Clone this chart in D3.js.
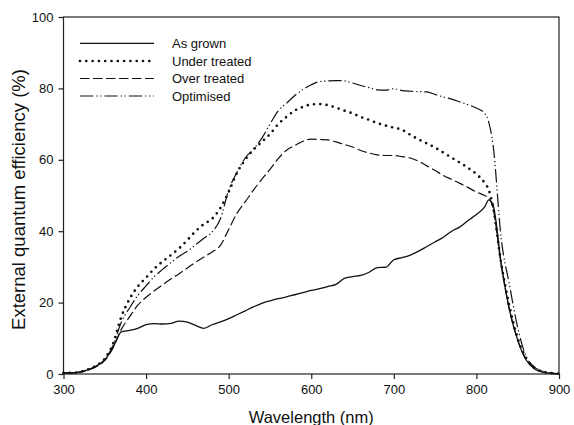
<!DOCTYPE html>
<html>
<head>
<meta charset="utf-8">
<script src="https://cdn.jsdelivr.net/npm/d3@7"></script>
<style>
  body { margin: 0; background: #fff; }
  svg { font-family: Arial, "Liberation Sans", sans-serif; }
</style>
</head>
<body>
<div id="chart"></div>
<script>
// wavelength grid (nm)
const wavelengths = [300, 310, 320, 330, 340, 350, 360, 370, 380, 390,
  400, 410, 420, 430, 440, 450, 460, 470, 480, 490,
  500, 510, 520, 530, 540, 550, 560, 570, 580, 590,
  600, 610, 620, 630, 640, 650, 660, 670, 680, 690,
  700, 710, 720, 730, 740, 750, 760, 770, 780, 790,
  800, 810, 815, 820, 830, 840, 850, 860, 870, 880, 890, 900]

const asGrown = [0.3, 0.3, 0.6, 1.2, 2.2, 4.0, 7.5, 11.8, 12.2, 12.8,
  13.8, 14.1, 14.0, 14.2, 14.8, 14.5, 13.6, 12.8, 13.8, 14.6,
  15.5, 16.6, 17.7, 18.8, 19.8, 20.5, 21.1, 21.6, 22.2, 22.8,
  23.4, 23.9, 24.5, 25.1, 26.8, 27.3, 27.6, 28.5, 29.8, 29.9,
  32.0, 32.6, 33.3, 34.4, 35.7, 37.0, 38.3, 40.0, 41.2, 43.0,
  44.7, 46.8, 48.8, 47.5, 31.0, 18.0, 9.5, 4.0, 1.5, 0.5, 0.2, 0.1]

const underTreated = [0.3, 0.3, 0.6, 1.3, 2.4, 4.3, 8.5, 16.0, 21.0, 24.5,
  27.0, 29.5, 31.5, 33.3, 35.2, 37.5, 40.0, 42.0, 43.5, 46.5,
  51.0, 56.3, 60.0, 62.8, 65.0, 67.2, 70.0, 72.0, 73.8, 74.8,
  75.5, 75.6, 75.3, 74.6, 73.8, 73.0, 72.0, 71.2, 70.3, 69.6,
  69.0, 68.4, 67.0, 65.7, 64.6, 63.4, 62.0, 60.6, 59.2, 57.7,
  56.0, 53.5, 51.5, 47.0, 31.0, 19.0, 10.0, 4.5, 1.8, 0.7, 0.3, 0.1]

const overTreated = [0.3, 0.3, 0.5, 1.1, 2.1, 3.8, 7.3, 12.5, 16.0, 19.3,
  21.5, 23.3, 25.0, 26.6, 28.1, 29.7, 31.3, 32.8, 34.2, 36.0,
  40.5, 45.0, 48.2, 51.5, 54.5, 57.3, 60.3, 62.7, 64.0, 65.2,
  65.8, 65.7, 65.6, 65.0, 64.3, 63.6, 62.6, 61.9, 61.4, 61.2,
  61.2, 60.9, 60.5, 59.6, 58.3, 57.0, 55.6, 54.5, 53.4, 52.2,
  51.0, 50.0, 49.3, 46.5, 30.5, 18.0, 9.5, 4.2, 1.6, 0.6, 0.2, 0.1]

const optimised = [0.3, 0.3, 0.5, 1.2, 2.3, 4.1, 8.0, 14.5, 18.5, 22.0,
  24.7, 27.3, 29.3, 31.2, 33.0, 34.4, 36.2, 38.0, 39.8, 43.5,
  51.5, 56.5, 60.5, 63.0, 66.0, 70.0, 73.7, 75.8, 78.0, 79.7,
  81.0, 81.9, 82.1, 82.2, 82.1, 81.5, 80.8, 80.2, 79.6, 79.5,
  79.9, 79.4, 79.2, 79.1, 79.0, 78.3, 77.6, 77.0, 76.2, 75.4,
  74.5, 73.0, 70.5, 64.5, 38.0, 25.0, 13.0, 5.0, 2.0, 0.8, 0.3, 0.1]

const seriesNames = ['As grown', 'Under treated', 'Over treated', 'Optimised']
const seriesValues = [asGrown, underTreated, overTreated, optimised]
const xTicks = [300, 400, 500, 600, 700, 800, 900]
const yTicks = [0, 20, 40, 60, 80, 100]

const width = 574
const height = 425
const margin = { top: 17, right: 15, bottom: 51, left: 63.5 }

// line styles per series
const dashes = ['none', '0,6.3', '9.5,3.5', '13.3,3,1.3,2.5,1.3,3']
const widths = [1.3, 2.7, 1.2, 1.2]

const svg = d3.select('#chart')
  .append('svg')
  .attr('width', width)
  .attr('height', height)

const x = d3.scaleLinear()
  .domain([300, 900])
  .range([margin.left, width - margin.right])

const y = d3.scaleLinear()
  .domain([0, 100])
  .range([height - margin.bottom, margin.top])

// frame
svg.append('rect')
  .attr('x', x(300))
  .attr('y', y(100))
  .attr('width', x(900) - x(300))
  .attr('height', y(0) - y(100))
  .style('fill', 'none')
  .style('stroke', '#222')
  .style('stroke-width', 1.2)

const xAxis = svg.append('g')
  .attr('transform', 'translate(0,' + y(0) + ')')
  .call(d3.axisBottom(x).tickValues(xTicks).tickSize(5).tickPadding(6).tickSizeOuter(0))

const yAxis = svg.append('g')
  .attr('transform', 'translate(' + x(300) + ',0)')
  .call(d3.axisLeft(y).tickValues(yTicks).tickSize(5).tickPadding(5).tickSizeOuter(0))

xAxis.select('.domain').remove()
yAxis.select('.domain').remove()

svg.selectAll('.tick line').style('stroke', '#222').style('stroke-width', 1.2)
svg.selectAll('.tick text')
  .style('font-family', 'Arial, "Liberation Sans", sans-serif')
  .style('font-size', '13px')
  .style('fill', '#111')

svg.append('text')
  .attr('x', (x(300) + x(900)) / 2)
  .attr('y', 423)
  .attr('text-anchor', 'middle')
  .style('font-size', '16.5px')
  .style('fill', '#111')
  .text('Wavelength (nm)')

svg.append('text')
  .attr('transform', 'translate(25,' + ((y(0) + y(100)) / 2 + 4) + ') rotate(-90)')
  .attr('text-anchor', 'middle')
  .style('font-size', '18.5px')
  .style('fill', '#111')
  .text('External quantum efficiency (%)')

const line = d3.line()
  .x(function (d) { return x(d[0]) })
  .y(function (d) { return y(d[1]) })
  .curve(d3.curveMonotoneX)

seriesValues.forEach(function (vals, i) {
  const pts = wavelengths.map(function (w, j) { return [w, vals[j]] })
  svg.append('path')
    .datum(pts)
    .attr('d', line)
    .style('fill', 'none')
    .style('stroke', '#111')
    .style('stroke-width', widths[i])
    .style('stroke-dasharray', dashes[i])
    .style('stroke-linecap', i === 1 ? 'round' : 'butt')
})

// legend
const legend = svg.append('g')
const rowY = [43.3, 61, 78.5, 96]

seriesNames.forEach(function (name, i) {
  legend.append('line')
    .attr('x1', 80)
    .attr('x2', 154)
    .attr('y1', rowY[i])
    .attr('y2', rowY[i])
    .style('stroke', '#111')
    .style('stroke-width', widths[i])
    .style('stroke-dasharray', dashes[i])
    .style('stroke-linecap', i === 1 ? 'round' : 'butt')

  legend.append('text')
    .attr('x', 172)
    .attr('y', rowY[i] + 4.6)
    .style('font-size', '13px')
    .style('fill', '#111')
    .text(name)
})
</script>
</body>
</html>
